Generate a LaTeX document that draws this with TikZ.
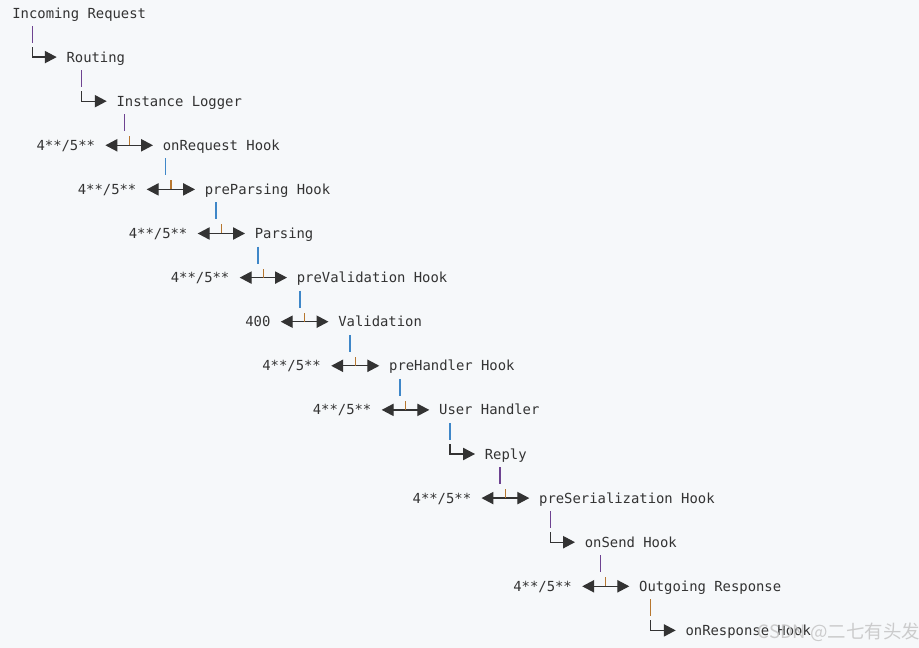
\documentclass[tikz,border=0pt]{standalone}
\usepackage{fontspec}
\setmonofont{DejaVu Sans Mono}
\newfontfamily\cjkfont{Noto Sans CJK SC}
\usetikzlibrary{arrows.meta}
\definecolor{pagebg}{HTML}{F6F8FA}
\definecolor{inkgray}{HTML}{333333}
\definecolor{pipepurple}{HTML}{6E4391}
\definecolor{pipeblue}{HTML}{3F87C8}
\definecolor{pipeorange}{HTML}{B7772F}
\tikzset{
  stage/.style={anchor=west, inner sep=0pt, text=inkgray, text height=5.76pt, text depth=0pt,
    font=\ttfamily\fontsize{7.9}{9}\selectfont},
  pipe/.style={line width=0.75pt},
  fork/.style={draw=inkgray, line width=0.7pt,
    {Triangle[length=6.8pt,width=7pt]}-{Triangle[length=6.8pt,width=7pt]}},
  elbow/.style={draw=inkgray, line width=0.7pt, -{Triangle[length=6.8pt,width=7pt]}},
  forktick/.style={draw=pipeorange, line width=0.75pt},
}

\begin{document}
\begin{tikzpicture}[x=0.02cm, y=-0.02cm]
  \fill[pagebg] (0,0) rectangle (919,648);
  \useasboundingbox (0,0) rectangle (919,648);

  \node[stage] (incoming) at (12,13) {Incoming Request};

  \node[stage] (routing) at (66.2,57.1) {Routing};
  \coordinate (p1) at (32.3,57.1);
  \draw[pipe,pipepurple] ([shift={(0,-31)}]p1) -- ([shift={(0,-14)}]p1);
  \draw[elbow] ([shift={(0,-10)}]p1) |- ([shift={(-9.5,0)}]routing.west);

  \node[stage] (logger) at (116.2,101.2) {Instance Logger};
  \coordinate (p2) at (81.7,101.2);
  \draw[pipe,pipepurple] ([shift={(0,-31)}]p2) -- ([shift={(0,-14)}]p2);
  \draw[elbow] ([shift={(0,-10)}]p2) |- ([shift={(-9.5,0)}]logger.west);

  \node[stage] (err3) at (36.2,145.3) {4**/5**};
  \node[stage] (onrequest) at (162.5,145.3) {onRequest Hook};
  \coordinate (p3) at (124.5,145.3);
  \draw[pipe,pipepurple] ([shift={(0,-31)}]p3) -- ([shift={(0,-14)}]p3);
  \draw[fork] ([shift={(10,0)}]err3.east) -- coordinate (t3) ([shift={(-9.5,0)}]onrequest.west);
  \draw[forktick] (t3) -- ++(0,-9);

  \node[stage] (err4) at (77.5,189.4) {4**/5**};
  \node[stage] (preparsing) at (204.5,189.4) {preParsing Hook};
  \coordinate (p4) at (165.8,189.4);
  \draw[pipe,pipeblue] ([shift={(0,-31)}]p4) -- ([shift={(0,-14)}]p4);
  \draw[fork] ([shift={(10,0)}]err4.east) -- coordinate (t4) ([shift={(-9.5,0)}]preparsing.west);
  \draw[forktick] (t4) -- ++(0,-9);

  \node[stage] (err5) at (128.5,233.5) {4**/5**};
  \node[stage] (parsing) at (254.5,233.5) {Parsing};
  \coordinate (p5) at (216,233.5);
  \draw[pipe,pipeblue] ([shift={(0,-31)}]p5) -- ([shift={(0,-14)}]p5);
  \draw[fork] ([shift={(10,0)}]err5.east) -- coordinate (t5) ([shift={(-9.5,0)}]parsing.west);
  \draw[forktick] (t5) -- ++(0,-9);

  \node[stage] (err6) at (170.5,277.6) {4**/5**};
  \node[stage] (prevalidation) at (296.5,277.6) {preValidation Hook};
  \coordinate (p6) at (258,277.6);
  \draw[pipe,pipeblue] ([shift={(0,-31)}]p6) -- ([shift={(0,-14)}]p6);
  \draw[fork] ([shift={(10,0)}]err6.east) -- coordinate (t6) ([shift={(-9.5,0)}]prevalidation.west);
  \draw[forktick] (t6) -- ++(0,-9);

  \node[stage] (err7) at (245,321.7) {400};
  \node[stage] (validation) at (338,321.7) {Validation};
  \coordinate (p7) at (300,321.7);
  \draw[pipe,pipeblue] ([shift={(0,-31)}]p7) -- ([shift={(0,-14)}]p7);
  \draw[fork] ([shift={(10,0)}]err7.east) -- coordinate (t7) ([shift={(-9.5,0)}]validation.west);
  \draw[forktick] (t7) -- ++(0,-9);

  \node[stage] (err8) at (262,365.8) {4**/5**};
  \node[stage] (prehandler) at (388.8,365.8) {preHandler Hook};
  \coordinate (p8) at (350,365.8);
  \draw[pipe,pipeblue] ([shift={(0,-31)}]p8) -- ([shift={(0,-14)}]p8);
  \draw[fork] ([shift={(10,0)}]err8.east) -- coordinate (t8) ([shift={(-9.5,0)}]prehandler.west);
  \draw[forktick] (t8) -- ++(0,-9);

  \node[stage] (err9) at (312.5,409.9) {4**/5**};
  \node[stage] (handler) at (438.8,409.9) {User Handler};
  \coordinate (p9) at (400,409.9);
  \draw[pipe,pipeblue] ([shift={(0,-31)}]p9) -- ([shift={(0,-14)}]p9);
  \draw[fork] ([shift={(10,0)}]err9.east) -- coordinate (t9) ([shift={(-9.5,0)}]handler.west);
  \draw[forktick] (t9) -- ++(0,-9);

  \node[stage] (reply) at (484.5,454) {Reply};
  \coordinate (p10) at (450,454);
  \draw[pipe,pipeblue] ([shift={(0,-31)}]p10) -- ([shift={(0,-14)}]p10);
  \draw[elbow] ([shift={(0,-10)}]p10) |- ([shift={(-9.5,0)}]reply.west);

  \node[stage] (err11) at (412.3,498.1) {4**/5**};
  \node[stage] (preserialization) at (538.8,498.1) {preSerialization Hook};
  \coordinate (p11) at (500,498.1);
  \draw[pipe,pipepurple] ([shift={(0,-31)}]p11) -- ([shift={(0,-14)}]p11);
  \draw[fork] ([shift={(10,0)}]err11.east) -- coordinate (t11) ([shift={(-9.5,0)}]preserialization.west);
  \draw[forktick] (t11) -- ++(0,-9);

  \node[stage] (onsend) at (584.5,542.2) {onSend Hook};
  \coordinate (p12) at (550.5,542.2);
  \draw[pipe,pipepurple] ([shift={(0,-31)}]p12) -- ([shift={(0,-14)}]p12);
  \draw[elbow] ([shift={(0,-10)}]p12) |- ([shift={(-9.5,0)}]onsend.west);

  \node[stage] (err13) at (513,586.3) {4**/5**};
  \node[stage] (outgoing) at (638.8,586.3) {Outgoing Response};
  \coordinate (p13) at (600.5,586.3);
  \draw[pipe,pipepurple] ([shift={(0,-31)}]p13) -- ([shift={(0,-14)}]p13);
  \draw[fork] ([shift={(10,0)}]err13.east) -- coordinate (t13) ([shift={(-9.5,0)}]outgoing.west);
  \draw[forktick] (t13) -- ++(0,-9);

  \node[stage] (onresponse) at (685.2,630.4) {onResponse Hook};
  \coordinate (p14) at (650.7,630.4);
  \draw[pipe,pipeorange] ([shift={(0,-31)}]p14) -- ([shift={(0,-14)}]p14);
  \draw[elbow] ([shift={(0,-10)}]p14) |- ([shift={(-9.5,0)}]onresponse.west);

  \node[text=black!22, opacity=0.9, inner sep=0pt, font=\cjkfont\fontsize{10.5}{12}\selectfont]
    (mark) at (839,632) {CSDN @二七有头发};
\end{tikzpicture}
\end{document}
